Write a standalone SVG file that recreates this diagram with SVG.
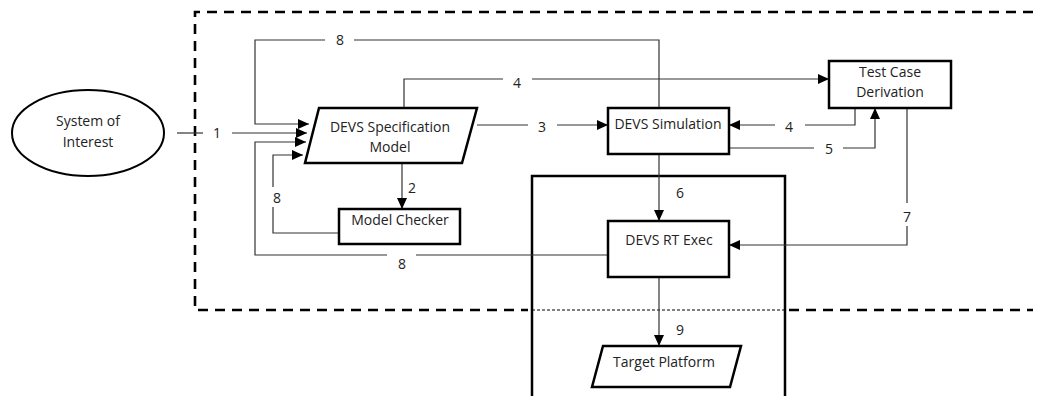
<svg xmlns="http://www.w3.org/2000/svg" width="1039" height="396" viewBox="0 0 1039 396">
<style>
.box{fill:#fff;stroke:#000;stroke-width:2.5}
.ln{fill:none;stroke:#333;stroke-width:1.2}
.t{font-family:"Open Sans","Noto Sans",sans-serif;font-size:14px;fill:#222;text-anchor:middle}
.frame{fill:none;stroke:#000;stroke-width:2.6;stroke-dasharray:10 7}
</style>
<defs>
<marker id="ah" markerUnits="userSpaceOnUse" markerWidth="12" markerHeight="10" refX="11" refY="5" orient="auto">
<path d="M0,0 L11,5 L0,10 Z" fill="#000"/>
</marker>
</defs>
<rect width="1039" height="396" fill="#fff"/>
<g id="frame">
<path class="frame" d="M1033,12 H195 V310 H528"/>
<path class="frame" d="M789,310 H1033"/>
<path d="M532,310 H785" stroke="#000" stroke-width="1" stroke-dasharray="3 2" fill="none"/>
</g>
<g id="platform-box">
<path d="M532,396 V176 H785 V396" fill="none" stroke="#000" stroke-width="2.5"/>
</g>
<g id="connectors">
<!-- 1 -->
<path class="ln" d="M177,133 H203"/>
<path class="ln" d="M232,133 H307" marker-end="url(#ah)"/>
<text class="t" x="217" y="138">1</text>
<!-- 8 top -->
<path class="ln" d="M659,108 V40 H354"/>
<path class="ln" d="M325,40 H255 V124 H309" marker-end="url(#ah)"/>
<text class="t" x="340" y="45">8</text>
<!-- 8 bottom -->
<path class="ln" d="M608,255 H416"/>
<path class="ln" d="M387,255 H255 V142 H306" marker-end="url(#ah)"/>
<text class="t" x="402" y="269">8</text>
<!-- 8 model checker -->
<path class="ln" d="M339,233 H273 V207"/>
<path class="ln" d="M273,187 V155 H303" marker-end="url(#ah)"/>
<text class="t" x="277" y="203">8</text>
<!-- 2 -->
<path class="ln" d="M402,163 V209" marker-end="url(#ah)"/>
<text class="t" x="412" y="193">2</text>
<!-- 4 top -->
<path class="ln" d="M404,108 V79 H503"/>
<path class="ln" d="M532,79 H829" marker-end="url(#ah)"/>
<text class="t" x="517" y="88">4</text>
<!-- 3 -->
<path class="ln" d="M477,125 H528"/>
<path class="ln" d="M557,125 H608" marker-end="url(#ah)"/>
<text class="t" x="542" y="132">3</text>
<!-- 4 back -->
<path class="ln" d="M855,108 V125 H805"/>
<path class="ln" d="M775,125 H729" marker-end="url(#ah)"/>
<text class="t" x="789" y="132">4</text>
<!-- 5 -->
<path class="ln" d="M729,148 H814"/>
<path class="ln" d="M843,148 H875 V108" marker-end="url(#ah)"/>
<text class="t" x="829" y="154">5</text>
<!-- 6 -->
<path class="ln" d="M659,154 V221" marker-end="url(#ah)"/>
<text class="t" x="680" y="198">6</text>
<!-- 7 -->
<path class="ln" d="M907,108 V203"/>
<path class="ln" d="M907,226 V245 H729" marker-end="url(#ah)"/>
<text class="t" x="907" y="222">7</text>
<!-- 9 -->
<path class="ln" d="M659,277 V346" marker-end="url(#ah)"/>
<text class="t" x="680" y="335">9</text>
</g>
<g id="system-of-interest">
<ellipse cx="88" cy="133" rx="76" ry="43" fill="#fff" stroke="#000" stroke-width="2"/>
<text class="t" x="88" y="126">System of</text>
<text class="t" x="88" y="147">Interest</text>
</g>
<g id="devs-spec">
<path class="box" d="M319,108 H477 L462,163 H305 Z"/>
<text class="t" x="390" y="132">DEVS Specification</text>
<text class="t" x="390" y="152">Model</text>
</g>
<g id="model-checker">
<rect class="box" x="339" y="209" width="121" height="35"/>
<text class="t" x="400" y="225">Model Checker</text>
</g>
<g id="devs-simulation">
<rect class="box" x="608" y="108" width="121" height="46"/>
<text class="t" x="668" y="129">DEVS Simulation</text>
</g>
<g id="test-case-derivation">
<rect class="box" x="829" y="61" width="122" height="47"/>
<text class="t" x="890" y="77">Test Case</text>
<text class="t" x="890" y="97">Derivation</text>
</g>
<g id="devs-rt-exec">
<rect class="box" x="608" y="221" width="121" height="56"/>
<text class="t" x="669" y="245">DEVS RT Exec</text>
</g>
<g id="target-platform">
<path class="box" d="M603,346 H741 L730,387 H592 Z"/>
<text class="t" x="664" y="367">Target Platform</text>
</g>
</svg>
